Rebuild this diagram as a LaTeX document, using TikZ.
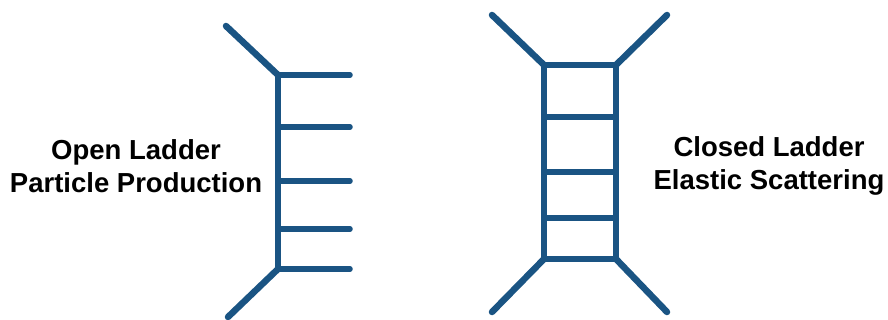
\documentclass[tikz,border=0pt]{standalone}
\usepackage{fontspec}
\setmainfont{Liberation Sans}
\usetikzlibrary{positioning}
\definecolor{ladderblue}{HTML}{1A5483}

\begin{document}
\begin{tikzpicture}[x=1pt,y=-1pt,
  rail/.style={ladderblue,line width=5.5pt,line cap=round},
  leg/.style={ladderblue,line width=6.5pt,line cap=round},
  caption/.style={font=\fontsize{27.5}{33}\selectfont\bfseries,align=center}]
  \useasboundingbox (0,0) rectangle (888,320);

  % Open ladder (particle production)
  \coordinate (o-top) at (278,75);
  \coordinate (o-bot) at (278,269);
  \draw[rail] (o-top) -- (o-bot);
  \foreach \n/\y in {1/75, 2/127, 3/181, 4/229, 5/269} {
    \coordinate (o-r\n) at (278,\y);
    \coordinate (o-e\n) at (350,\y);
    \draw[rail] (o-r\n) -- (o-e\n);
  }
  \coordinate (o-in) at (226,26);
  \coordinate (o-out) at (228,317);
  \draw[leg] (o-in) -- (o-top);
  \draw[leg] (o-bot) -- (o-out);
  \node[caption] (open) at (136,166) {Open Ladder\\Particle Production};

  % Closed ladder (elastic scattering)
  \coordinate (c-lt) at (544,65);
  \coordinate (c-lb) at (544,259);
  \coordinate (c-rt) at (616,65);
  \coordinate (c-rb) at (616,259);
  \draw[rail] (c-lt) -- (c-lb);
  \draw[rail] (c-rt) -- (c-rb);
  \foreach \n/\y in {1/65, 2/117, 3/172, 4/218, 5/259} {
    \coordinate (c-l\n) at (544,\y);
    \coordinate (c-r\n) at (616,\y);
    \draw[rail] (c-l\n) -- (c-r\n);
  }
  \coordinate (c-in1) at (492,15);
  \coordinate (c-in2) at (667,15);
  \coordinate (c-out1) at (492,312);
  \coordinate (c-out2) at (667,312);
  \draw[leg] (c-in1) -- (c-lt);
  \draw[leg] (c-in2) -- (c-rt);
  \draw[leg] (c-lb) -- (c-out1);
  \draw[leg] (c-rb) -- (c-out2);
  \node[caption] (closed) at (769,166) {Closed Ladder\\Elastic Scattering};
\end{tikzpicture}
\end{document}
